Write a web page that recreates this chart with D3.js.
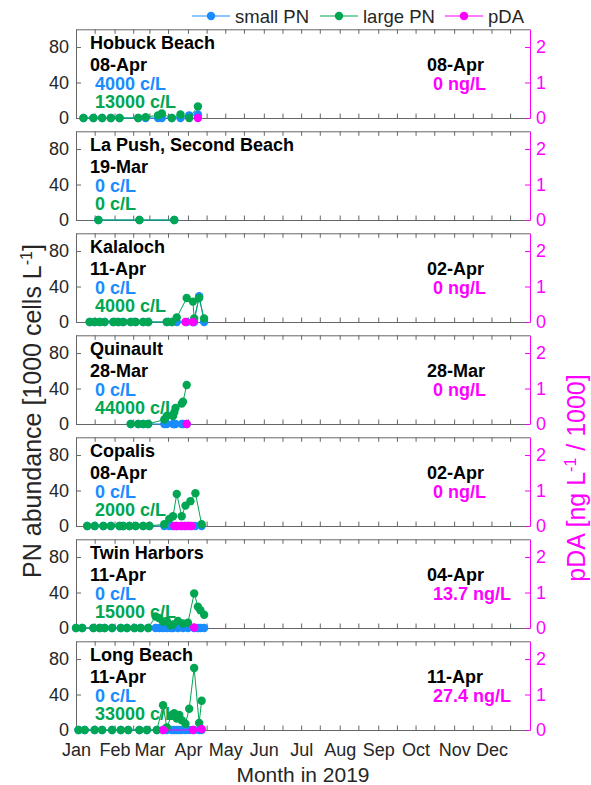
<!DOCTYPE html>
<html>
<head>
<meta charset="utf-8">
<script src="https://cdn.jsdelivr.net/npm/d3@7"></script>
<style>
  body { margin: 0; background: #fff; }
  svg { display: block; font-family: 'Liberation Sans', Arial, Helvetica, sans-serif; }
  .tick text { font-size: 18px; }
  .note { font-size: 18px; font-weight: bold; }
</style>
</head>
<body>
<svg class="chart" width="591" height="785"></svg>
<script>
const months = ['Jan', 'Feb', 'Mar', 'Apr', 'May', 'Jun', 'Jul', 'Aug', 'Sep', 'Oct', 'Nov', 'Dec'];
const sites = ['Hobuck Beach', 'La Push, Second Beach', 'Kalaloch', 'Quinault', 'Copalis', 'Twin Harbors', 'Long Beach'];
const pnDateLabels = ['08-Apr', '19-Mar', '11-Apr', '28-Mar', '08-Apr', '11-Apr', '11-Apr'];
const smallLabels = ['4000 c/L', '0 c/L', '0 c/L', '0 c/L', '0 c/L', '0 c/L', '0 c/L'];
const largeLabels = ['13000 c/L', '0 c/L', '4000 c/L', '44000 c/L', '2000 c/L', '15000 c/L', '33000 c/L'];
const pdaDateLabels = ['08-Apr', null, '02-Apr', '28-Mar', '02-Apr', '04-Apr', '11-Apr'];
const pdaLabels = ['0 ng/L', null, '0 ng/L', '0 ng/L', '0 ng/L', '13.7 ng/L', '27.4 ng/L'];

// sample dates (MM-DD, 2019); PN in 1000 cells/L, pDA in ng/L
const hobuckDates = ['01-07', '01-15', '01-22', '01-29', '02-05', '02-20', '02-26', '03-08', '03-11', '03-19', '03-26', '04-02', '04-09'];
const hobuckSmall = [0, 0, 0, 0, 0, 0, 0, 0, 0, 0, 0, 3, 4];
const hobuckLarge = [0, 0, 0, 0, 0, 0, 1, 3, 5, 0, 4, 0, 13];
const hobuckPdaDates = ['04-09'];
const hobuckPda = [0];

const laPushDates = ['01-19', '02-21', '03-21'];
const laPushSmall = [0, 0, 0];
const laPushLarge = [0, 0, 0];
const laPushPdaDates = [];
const laPushPda = [];

const kalalochDates = ['01-12', '01-16', '01-20', '01-24', '01-31', '02-04', '02-08', '02-14', '02-18', '02-24', '02-28', '03-15', '03-19', '03-23', '03-31', '04-05', '04-06', '04-10', '04-14'];
const kalalochSmall = [0, 0, 0, 0, 0, 0, 0, 0, 0, 0, 0, 0, 0, 0, 0, 0, 0, 29, 0];
const kalalochLarge = [0, 0, 0, 0, 0, 0, 0, 0, 0, 0, 0, 0, 0, 5, 27, 23, 4, 27, 4];
const kalalochPdaDates = ['03-30', '04-05'];
const kalalochPda = [0, 0];

const quinaultDates = ['02-14', '02-20', '02-24', '02-28', '03-13', '03-15', '03-20', '03-21', '03-22', '03-27', '03-28', '03-31'];
const quinaultSmall = [0, 0, 0, 0, 0, 0, 0, 0, 0, 0, 0, 0];
const quinaultLarge = [0, 0, 0, 0, 5, 9, 9, 13, 18, 23, 25, 44];
const quinaultPdaDates = ['03-31'];
const quinaultPda = [0];

const copalisDates = ['01-10', '01-16', '01-23', '01-29', '02-05', '02-08', '02-13', '02-18', '02-24', '03-01', '03-13', '03-17', '03-20', '03-23', '03-27', '03-30', '04-03', '04-07', '04-12'];
const copalisSmall = [0, 0, 0, 0, 0, 0, 0, 0, 0, 0, 0, 0, 0, 0, 0, 0, 0, 0, 0];
const copalisLarge = [0, 0, 0, 0, 0, 0, 0, 0, 0, 0, 2, 8, 11, 36, 11, 23, 28, 37, 2];
const copalisPdaDates = ['03-21', '03-23', '03-26', '03-29', '04-01', '04-04'];
const copalisPda = [0, 0, 0, 0, 0, 0];

const twinDates = ['01-01', '01-06', '01-15', '01-20', '01-24', '01-30', '02-06', '02-11', '02-17', '02-22', '02-28', '03-06', '03-09', '03-12', '03-15', '03-18', '03-20', '03-24', '03-28', '04-01', '04-06', '04-09', '04-11', '04-14'];
const twinSmall = [0, 0, 0, 0, 0, 0, 0, 0, 0, 0, 0, 0, 0, 0, 0, 0, 0, 0, 0, 0, 0, 0, 0, 0];
const twinLarge = [0, 0, 0, 0, 0, 0, 0, 0, 0, 0, 0, 13, 11, 7, 8, 3, 4, 8, 5, 6, 39, 24, 20, 15];
const twinPdaDates = ['04-06'];
const twinPda = [13.7];

const longDates = ['01-03', '01-08', '01-16', '01-22', '01-30', '02-06', '02-12', '02-21', '02-27', '03-07', '03-12', '03-15', '03-19', '03-21', '03-23', '03-25', '03-27', '03-30', '04-02', '04-06', '04-10', '04-12'];
const longSmall = [0, 0, 0, 0, 0, 0, 0, 0, 0, 0, 0, 0, 0, 0, 0, 0, 0, 0, 0, 0, 0, 0];
const longLarge = [0, 0, 0, 0, 0, 0, 0, 0, 0, 0, 28, 3, 17, 19, 13, 17, 11, 7, 24, 70, 8, 33];
const longPdaDates = ['03-12', '04-05', '04-12'];
const longPda = [0, 0, 27.4];

const pnDates = [hobuckDates, laPushDates, kalalochDates, quinaultDates, copalisDates, twinDates, longDates];
const smallPN = [hobuckSmall, laPushSmall, kalalochSmall, quinaultSmall, copalisSmall, twinSmall, longSmall];
const largePN = [hobuckLarge, laPushLarge, kalalochLarge, quinaultLarge, copalisLarge, twinLarge, longLarge];
const pdaDates = [hobuckPdaDates, laPushPdaDates, kalalochPdaDates, quinaultPdaDates, copalisPdaDates, twinPdaDates, longPdaDates];
const pdaValues = [hobuckPda, laPushPda, kalalochPda, quinaultPda, copalisPda, twinPda, longPda];

const colors = { small: '#1a8cff', large: '#00a651', pda: '#ff00ff', axis: '#262626', frame: '#666' };
const parseDate = d3.timeParse('%Y-%m-%d');
const toPoints = (dates, values) => dates.map((d, i) => ({ date: parseDate(`2019-${d}`), value: values[i] }));

const drawSeries = (panel, points, x, y, color) => {
  const line = d3.line().x(d => x(d.date)).y(d => y(d.value));
  panel.append('path')
    .datum(points)
    .attr('fill', 'none')
    .attr('stroke', color)
    .attr('stroke-width', 1)
    .attr('d', line);
  panel.selectAll(null)
    .data(points)
    .enter()
    .append('circle')
    .attr('cx', d => x(d.date))
    .attr('cy', d => y(d.value))
    .attr('r', 4.2)
    .attr('fill', color);
};

const drawLegend = (svg) => {
  const items = [
    { label: 'small PN', color: colors.small, x: 192 },
    { label: 'large PN', color: colors.large, x: 320 },
    { label: 'pDA', color: colors.pda, x: 445 },
  ];
  const g = svg.append('g').attr('transform', 'translate(0, 16)');
  items.forEach(({ label, color, x }) => {
    g.append('line').attr('x1', x).attr('x2', x + 38).attr('stroke', color).attr('stroke-width', 1.2);
    g.append('circle').attr('cx', x + 19).attr('r', 4.2).attr('fill', color);
    g.append('text')
      .attr('x', x + 43)
      .attr('y', 6.5)
      .attr('font-size', 18.5)
      .attr('fill', colors.axis)
      .text(label);
  });
};

const startApp = () => {
  const margin = { left: 76, top: 29.3 };
  const width = 454;
  const height = 88.7;
  const step = 102;
  const svg = d3.select('.chart');

  const x = d3.scaleTime()
    .domain([new Date(2019, 0, 1), new Date(2020, 0, 1)])
    .range([0, width]);
  const y = d3.scaleLinear().domain([0, 100]).range([height, 0]);
  const yPda = d3.scaleLinear().domain([0, 2500]).range([height, 0]);

  const monthStarts = months.map((m, i) => new Date(2019, i, 1));
  const xTicks = monthStarts.flatMap(d => [d, new Date(2019, d.getMonth(), 16)]);
  const monthFormat = d => (d.getDate() === 1 ? months[d.getMonth()] : '');

  drawLegend(svg);

  sites.forEach((site, i) => {
    const panel = svg.append('g')
      .attr('transform', `translate(${margin.left}, ${margin.top + i * step})`);
    const isLast = i === sites.length - 1;

    panel.append('g')
      .call(d3.axisTop(x).tickValues(xTicks).tickSizeInner(-4.5).tickSizeOuter(0).tickFormat(''));
    panel.append('g')
      .attr('transform', `translate(0, ${height})`)
      .call(d3.axisBottom(x).tickValues(xTicks).tickSizeInner(-4.5).tickSizeOuter(0)
        .tickPadding(13)
        .tickFormat(isLast ? monthFormat : ''));
    panel.append('g')
      .call(d3.axisLeft(y).tickValues([0, 40, 80]).tickSizeInner(-5).tickSizeOuter(0).tickPadding(7));
    const right = panel.append('g')
      .attr('transform', `translate(${width}, 0)`)
      .call(d3.axisRight(yPda).tickValues([0, 1000, 2000]).tickSizeInner(-5).tickSizeOuter(0)
        .tickPadding(6).tickFormat(d => d / 1000));

    panel.selectAll('.domain, .tick line').attr('stroke', colors.frame);
    panel.selectAll('.tick text').attr('fill', colors.axis);
    right.selectAll('.domain, .tick line').attr('stroke', colors.pda);
    right.selectAll('.tick text').attr('fill', colors.pda);

    drawSeries(panel, toPoints(pnDates[i], smallPN[i]), x, y, colors.small);
    drawSeries(panel, toPoints(pnDates[i], largePN[i]), x, y, colors.large);
    drawSeries(panel, toPoints(pdaDates[i], pdaValues[i]), x, yPda, colors.pda);

    const notes = [
      { text: site, x: 14, y: 20, color: '#000' },
      { text: pnDateLabels[i], x: 14, y: 42, color: '#000' },
      { text: smallLabels[i], x: 19, y: 60.5, color: colors.small },
      { text: largeLabels[i], x: 19, y: 79, color: colors.large },
      { text: pdaDateLabels[i], x: 351, y: 42, color: '#000' },
      { text: pdaLabels[i], x: 357, y: 60.5, color: colors.pda },
    ].filter(d => d.text);

    panel.selectAll('.note')
      .data(notes)
      .enter()
      .append('text')
      .classed('note', true)
      .attr('x', d => d.x)
      .attr('y', d => d.y)
      .attr('fill', d => d.color)
      .text(d => d.text);
  });

  const yLabel = svg.append('text')
    .attr('transform', 'translate(41, 411) rotate(-90)')
    .attr('text-anchor', 'middle')
    .attr('font-size', 25)
    .attr('fill', colors.axis);
  yLabel.append('tspan').text('PN abundance [1000 cells L');
  yLabel.append('tspan').attr('font-size', 16).attr('dy', -9).text('-1');
  yLabel.append('tspan').attr('dy', 9).text(']');

  const pdaLabel = svg.append('text')
    .attr('transform', 'translate(585, 478) rotate(-90)')
    .attr('text-anchor', 'middle')
    .attr('font-size', 25)
    .attr('fill', colors.pda);
  pdaLabel.append('tspan').text('pDA [ng L');
  pdaLabel.append('tspan').attr('font-size', 16).attr('dy', -9).text('-1');
  pdaLabel.append('tspan').attr('dy', 9).text(' / 1000]');

  svg.append('text')
    .attr('x', margin.left + width / 2)
    .attr('y', 782)
    .attr('text-anchor', 'middle')
    .attr('font-size', 21)
    .attr('fill', colors.axis)
    .text('Month in 2019');
};

window.onload = startApp;
</script>
</body>
</html>
